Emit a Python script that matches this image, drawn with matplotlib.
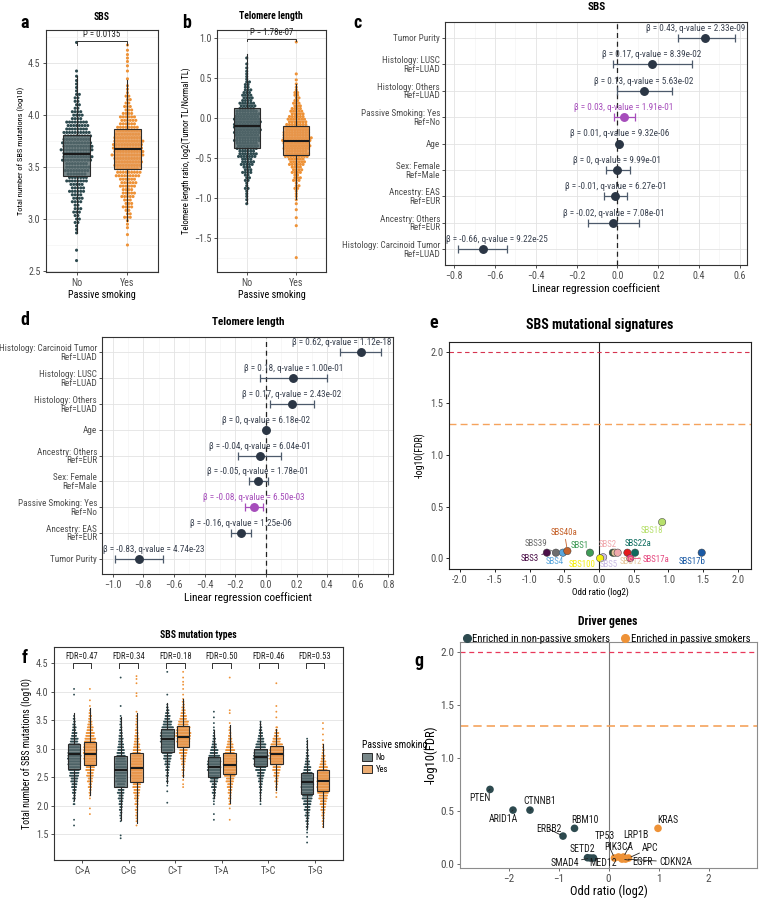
import numpy as np
import matplotlib
matplotlib.use("Agg")
import matplotlib.pyplot as plt
import matplotlib.font_manager as fm
from matplotlib.colors import to_rgba
from matplotlib.patches import Patch
from matplotlib.lines import Line2D
from matplotlib.ticker import MultipleLocator, FormatStrFormatter

W, H = 759, 899

# ---------------- data: panels a/b (counts per 0.1 bin) ----------------
groups = ["No", "Yes"]
sbs_no_start = 2.6
sbs_no_counts = [1, 1, 0, 3, 6, 8, 12, 16, 22, 26, 32, 34, 30, 24, 12, 6, 5, 3, 2, 0, 0, 1]
sbs_yes_start = 2.75
sbs_yes_counts = [1, 1, 3, 7, 10, 14, 18, 26, 30, 34, 32, 26, 18, 10, 6, 3, 1, 2, 3, 2]
sbs_box = [[2.87, 3.41, 3.63, 3.81, 4.38], [2.98, 3.48, 3.675, 3.865, 4.34]]
sbs_p = "P = 0.0135"

tl_no_start = -1.05
tl_no_counts = [2, 3, 4, 6, 10, 14, 20, 24, 28, 30, 30, 26, 18, 12, 8, 5, 3, 2, 1]
tl_yes_start = -1.75
tl_yes_counts = [1, 0, 0, 0, 1, 1, 1, 2, 3, 5, 8, 12, 18, 26, 30, 32, 28, 22, 16, 10, 6, 4, 2, 1, 0, 0, 0, 1]
tl_box = [[-1.06, -0.38, -0.10, 0.125, 0.80], [-1.02, -0.47, -0.29, -0.096, 0.42]]
tl_p = "P = 1.78e-07"

# ---------------- data: panels c/d (regression) ----------------
c_labels = ["Tumor Purity", "Histology: LUSC\nRef=LUAD", "Histology: Others\nRef=LUAD",
            "Passive Smoking: Yes\nRef=No", "Age", "Sex: Female\nRef=Male",
            "Ancestry: EAS\nRef=EUR", "Ancestry: Others\nRef=EUR",
            "Histology: Carcinoid Tumor\nRef=LUAD"]
c_beta = [0.43, 0.17, 0.13, 0.03, 0.01, 0, -0.01, -0.02, -0.66]
c_lo = [0.295, -0.02, 0.0, -0.015, 0.005, -0.055, -0.065, -0.145, -0.78]
c_hi = [0.575, 0.365, 0.265, 0.085, 0.015, 0.060, 0.045, 0.105, -0.54]
c_q = [2.33e-09, 8.39e-02, 5.63e-02, 1.91e-01, 9.32e-06, 9.99e-01, 6.27e-01, 7.08e-01, 9.22e-25]

d_labels = ["Histology: Carcinoid Tumor\nRef=LUAD", "Histology: LUSC\nRef=LUAD",
            "Histology: Others\nRef=LUAD", "Age", "Ancestry: Others\nRef=EUR",
            "Sex: Female\nRef=Male", "Passive Smoking: Yes\nRef=No",
            "Ancestry: EAS\nRef=EUR", "Tumor Purity"]
d_beta = [0.62, 0.18, 0.17, 0, -0.04, -0.05, -0.08, -0.16, -0.83]
d_lo = [0.487, -0.037, 0.024, -0.004, -0.18, -0.113, -0.135, -0.227, -0.985]
d_hi = [0.753, 0.40, 0.316, 0.004, 0.10, 0.017, -0.022, -0.096, -0.67]
d_q = [1.12e-18, 1.00e-01, 2.43e-02, 6.18e-02, 6.04e-01, 1.78e-01, 6.50e-03, 1.25e-06, 4.74e-23]

# ---------------- data: panel e (signatures) ----------------
sig_names = ["SBS3", "SBS39", "SBS4", "SBS40a", "SBS1", "SBS5", "SBS100", "", "SBS12",
             "SBS2", "", "SBS22a", "SBS17a", "SBS18", "SBS17b"]
sig_x = [-0.75, -0.62, -0.52, -0.455, -0.13, 0.06, 0.017, 0.20, 0.23, 0.27, 0.41, 0.52, 0.45, 0.91, 1.48]
sig_y = [0.054, 0.054, 0.054, 0.07, 0.054, 0.01, 0.0, 0.054, 0.054, 0.054, 0.054, 0.054, 0.0, 0.35, 0.054]
sig_colors = ["#4b0f48", "#6e6e6e", "#5aa6dc", "#c5622b", "#3f9b57", "#cbbde6", "#f5ef10",
              "#2f5a3a", "#e6c79c", "#f0a8ad", "#e41a1c", "#0d6b5e", "#e5487f", "#b7e06c", "#1a5aa5"]

# ---------------- data: panel f (mutation types) ----------------
mut_types = ["C>A", "C>G", "C>T", "T>A", "T>C", "T>G"]
mut_fdr = [0.47, 0.34, 0.18, 0.50, 0.46, 0.53]
mut_no_start = [1.65, 1.45, 2.05, 1.75, 2.05, 1.35]
mut_no_counts = [
    [1, 1, 0, 0, 3, 5, 8, 12, 16, 22, 26, 30, 32, 30, 26, 18, 12, 8, 5, 3, 0, 0, 0, 1, 1],
    [2, 0, 0, 2, 4, 6, 8, 11, 15, 19, 23, 26, 27, 25, 21, 17, 13, 10, 7, 5, 3, 2, 0, 1, 0, 0, 0, 0, 1],
    [1, 0, 1, 1, 3, 5, 8, 12, 18, 24, 30, 34, 34, 28, 20, 12, 7, 3, 0, 1, 0, 0, 0, 1],
    [1, 1, 0, 2, 4, 7, 11, 18, 26, 32, 32, 26, 18, 11, 6, 3, 2, 1, 1, 1],
    [2, 2, 4, 6, 10, 16, 24, 32, 36, 32, 24, 15, 9, 5, 2],
    [1, 1, 2, 4, 6, 9, 13, 18, 24, 28, 30, 28, 22, 16, 10, 6, 4, 2, 2],
]
mut_yes_start = [1.85, 1.65, 2.35, 1.75, 2.15, 1.65]
mut_yes_counts = [
    [1, 1, 0, 2, 4, 7, 11, 15, 20, 25, 30, 32, 30, 26, 20, 14, 9, 6, 3, 1, 1, 0, 1],
    [1, 2, 3, 5, 7, 10, 14, 18, 22, 25, 26, 25, 22, 18, 14, 10, 7, 5, 3, 2, 1, 0, 0, 2, 0, 1, 2],
    [2, 1, 3, 5, 8, 12, 18, 25, 32, 36, 32, 24, 15, 9, 5, 3, 1, 1, 2, 1, 1],
    [1, 0, 1, 3, 5, 8, 12, 18, 25, 30, 32, 28, 22, 15, 9, 5, 3, 1, 0, 2, 0, 0, 0, 0, 0, 1],
    [1, 2, 4, 7, 12, 18, 27, 34, 34, 28, 18, 10, 4, 0, 1, 1, 1, 0, 0, 0, 1],
    [2, 4, 6, 10, 14, 20, 26, 30, 30, 26, 20, 13, 8, 4, 2, 1, 1, 1, 1],
]
mut_no_box = [[2.10, 2.64, 2.90, 3.09, 3.62], [1.75, 2.33, 2.62, 2.87, 3.56],
              [2.39, 2.94, 3.17, 3.35, 3.80], [2.13, 2.51, 2.67, 2.85, 3.33],
              [2.10, 2.69, 2.86, 3.00, 3.47], [1.60, 2.20, 2.41, 2.58, 3.16]]
mut_yes_box = [[2.19, 2.71, 2.90, 3.12, 3.71], [1.69, 2.42, 2.66, 2.92, 3.62],
               [2.51, 3.03, 3.21, 3.39, 3.88], [2.04, 2.56, 2.72, 2.93, 3.42],
               [2.27, 2.73, 2.90, 3.04, 3.35], [1.63, 2.25, 2.44, 2.63, 3.08]]

# ---------------- data: panel g (driver genes) ----------------
genes = ["PTEN", "ARID1A", "CTNNB1", "ERBB2", "RBM10", "SETD2", "SMAD4", "MED12",
         "TP53", "PIK3CA", "LRP1B", "APC", "EGFR", "CDKN2A", "KRAS"]
gene_or = [-2.37, -1.91, -1.57, -0.91, -0.68, -0.42, -0.36, -0.30,
           0.12, 0.20, 0.30, 0.40, 0.27, 0.34, 0.99]
gene_fdr = [0.707, 0.512, 0.512, 0.267, 0.34, 0.063, 0.06, 0.06,
            0.06, 0.07, 0.07, 0.06, 0.05, 0.05, 0.34]

# label offsets in pixels (right, down) -- layout only
sig_offsets = {"SBS3": (-17, 6), "SBS39": (-20, -9), "SBS4": (-8, 9), "SBS40a": (-3, -19),
               "SBS1": (-10, -7), "SBS5": (6, 7), "SBS100": (-18, 6), "SBS12": (16, 9),
               "SBS2": (-10, -8), "SBS22a": (3, -9), "SBS17a": (26, 1), "SBS18": (-10, 8),
               "SBS17b": (-10, 9)}
gene_offsets = {"PTEN": (-10, 9), "ARID1A": (-10, 9), "CTNNB1": (10, -9), "ERBB2": (-14, -7),
                "RBM10": (10, -8), "SETD2": (-5, -9), "SMAD4": (-26, 5), "MED12": (10, 5),
                "TP53": (-10, -22), "PIK3CA": (0, -10), "LRP1B": (12, -22), "APC": (22, -10),
                "EGFR": (20, 3), "CDKN2A": (50, 3), "KRAS": (10, -8)}

DARK = "#2d4a4f"
ORANGE = "#ee9237"
NAVY = "#2b3645"
PURPLE = "#a64dbb"
ERRC = "#4d5a6b"


def pick_font():
    names = {f.name for f in fm.fontManager.ttflist}
    for cand in ["Roboto Condensed", "Liberation Sans Narrow", "Arial Narrow"]:
        if cand in names:
            return cand, "normal"
    for f in fm.fontManager.ttflist:
        if f.name == "DejaVu Sans" and str(f.stretch) in ("condensed", "semi-condensed"):
            return "DejaVu Sans", "condensed"
    return ("Roboto" if "Roboto" in names else "DejaVu Sans"), "normal"


FONT, STRETCH = pick_font()
plt.rcParams["font.family"] = [FONT, "DejaVu Sans"]
plt.rcParams["font.stretch"] = STRETCH
plt.rcParams["font.size"] = 7

fig = plt.figure(figsize=(W / 100, H / 100), dpi=100)


def add_ax(l, t, r, b):
    return fig.add_axes([l / W, 1 - b / H, (r - l) / W, (b - t) / H])


def ftext(x, y, s, **kw):
    fig.text(x / W, 1 - y / H, s, **kw)


def bw(ax, grid=True, tick=7.2):
    for sp in ax.spines.values():
        sp.set_color("#333333")
        sp.set_linewidth(0.8)
    ax.tick_params(which="major", length=2.5, width=0.6, color="#333333",
                   labelsize=tick, labelcolor="#4d4d4d", pad=1.5)
    ax.tick_params(which="minor", length=0)
    if grid:
        ax.grid(True, which="major", color="#e3e3e3", lw=0.6)
        ax.grid(True, which="minor", color="#f1f1f1", lw=0.4)
    ax.set_axisbelow(True)


def swarm(ax, xc, start, counts, bin_w, rows, dx, color, s):
    xs, ys = [], []
    for i, n in enumerate(counts):
        if n == 0:
            continue
        yc = start + i * bin_w
        r = min(rows, n)
        for j in range(r):
            k = len(range(j, n, r))
            yy = yc + (j - (r - 1) / 2) * bin_w / r
            off = (np.arange(k) - (k - 1) / 2) * dx
            if k > 1 and j % 2:
                off = off + dx * 0.5
            xs.extend(xc + off)
            ys.extend([yy] * k)
    ax.scatter(xs, ys, s=s, color=color, edgecolors="none", zorder=2)


def boxes(ax, stats, positions, width, faces, alpha):
    st = [dict(whislo=s[0], q1=s[1], med=s[2], q3=s[3], whishi=s[4], fliers=[]) for s in stats]
    bp = ax.bxp(st, positions=positions, widths=width, patch_artist=True, showcaps=False,
                showfliers=False, manage_ticks=False,
                boxprops=dict(edgecolor="#2a2a2a", linewidth=0.8),
                medianprops=dict(color="#1a1a1a", linewidth=1.5),
                whiskerprops=dict(color="#2a2a2a", linewidth=0.8))
    for p, fc in zip(bp["boxes"], faces):
        p.set_facecolor(to_rgba(fc, alpha))
    for key in ("boxes", "medians", "whiskers"):
        for art in bp[key]:
            art.set_zorder(3)


# ---------------- a & b ----------------
def swarm_panel(ax, no, yes, box, ylim, major, pval, yb, ylabel, ylsize):
    bw(ax)
    swarm(ax, 0, no[0], no[1], 0.1, 3, 0.055, DARK, 5)
    swarm(ax, 1, yes[0], yes[1], 0.1, 3, 0.055, ORANGE, 5)
    boxes(ax, box, [0, 1], 0.52, ["#56696c", "#e6974f"], 0.8)
    ax.set_xlim(-0.6, 1.6)
    ax.set_ylim(*ylim)
    ax.set_xticks([0, 1])
    ax.set_xticklabels(groups)
    ax.yaxis.set_major_locator(MultipleLocator(major))
    ax.yaxis.set_minor_locator(MultipleLocator(major / 2))
    ax.plot([0, 0, 1, 1], [yb - 0.03, yb, yb, yb - 0.03], color="#333333", lw=0.7, zorder=4)
    ax.text(0.5, yb + 0.02, pval, ha="center", va="bottom", fontsize=6.3, color="#222222")
    ax.set_xlabel("Passive smoking", fontsize=7.3, labelpad=1.5)
    ax.set_ylabel(ylabel, fontsize=ylsize, labelpad=2)


ax_a = add_ax(46, 30, 158, 272)
swarm_panel(ax_a, (sbs_no_start, sbs_no_counts), (sbs_yes_start, sbs_yes_counts), sbs_box,
            (2.49, 4.82), 0.5, sbs_p, 4.71, "Total number of SBS mutations (log10)", 6.0)
ax_b = add_ax(217, 30, 326, 272)
swarm_panel(ax_b, (tl_no_start, tl_no_counts), (tl_yes_start, tl_yes_counts), tl_box,
            (-1.93, 1.10), 0.5, tl_p, 0.99, "Telomere length ratio, log2(Tumor TL/Normal TL)", 6.2)

# ---------------- c & d ----------------
forest_texts = []


def forest(ax, labels, beta, lo, hi, q, xlim):
    bw(ax)
    y = np.arange(len(labels))
    ax.axvline(0, color="#222222", lw=0.9, ls=(0, (4, 3)), zorder=2)
    for i in y:
        col = PURPLE if labels[i].startswith("Passive") else NAVY
        ecol = PURPLE if labels[i].startswith("Passive") else ERRC
        ax.errorbar(beta[i], i, xerr=[[beta[i] - lo[i]], [hi[i] - beta[i]]], fmt="o",
                    color=col, ecolor=ecol, ms=5.4, capsize=2.8, elinewidth=0.9,
                    capthick=0.9, zorder=3)
        t = ax.annotate("β = %g, q-value = %.2e" % (beta[i], q[i]), (beta[i], i),
                        xytext=(0, 5), textcoords="offset pixels", ha="center", va="bottom",
                        fontsize=6.6, color=col if col == PURPLE else "#3a4250", zorder=4)
        forest_texts.append((ax, t))
    ax.set_yticks(y)
    ax.set_yticklabels(labels, fontsize=6.6, color="#4d4d4d", linespacing=0.95)
    ax.tick_params(axis="y", pad=1)
    ax.set_ylim(len(labels) - 0.4, -0.6)
    ax.set_xlim(*xlim)
    ax.xaxis.set_major_locator(MultipleLocator(0.2))
    ax.xaxis.set_minor_locator(MultipleLocator(0.1))
    ax.set_xlabel("Linear regression coefficient", fontsize=8.2, labelpad=1.5)


ax_c = add_ax(445, 22, 747, 265)
forest(ax_c, c_labels, c_beta, c_lo, c_hi, c_q, (-0.845, 0.635))
ax_d = add_ax(102, 337, 393, 574)
forest(ax_d, d_labels, d_beta, d_lo, d_hi, d_q, (-1.07, 0.83))

# ---------------- e ----------------
ax_e = add_ax(449, 342, 751, 569)
for sp in ax_e.spines.values():
    sp.set_color("#222222")
    sp.set_linewidth(0.8)
ax_e.tick_params(length=2.5, width=0.6, labelsize=7.5, labelcolor="#4d4d4d", pad=1.5)
ax_e.axvline(0, color="#222222", lw=0.8, zorder=1)
ax_e.axhline(2.0, color="#d6344f", lw=0.8, ls=(0, (4, 3)), zorder=1)
ax_e.axhline(-np.log10(0.05), color="#f5a35c", lw=1.0, ls=(0, (5, 3)), zorder=1)
ax_e.scatter(sig_x, sig_y, s=28, c=sig_colors, edgecolors="#3a3a3a", linewidths=0.35, zorder=3)
for nm, x, y, col in zip(sig_names, sig_x, sig_y, sig_colors):
    if not nm:
        continue
    dxp, dyp = sig_offsets[nm]
    arrow = dict(arrowstyle="-", color=col, lw=0.6, shrinkA=0, shrinkB=2) if abs(dxp) + abs(dyp) > 20 else None
    ax_e.annotate(nm, (x, y), xytext=(dxp, -dyp), textcoords="offset pixels", ha="center",
                  va="center", fontsize=6.4, color=col, arrowprops=arrow, zorder=4)
ax_e.set_xlim(-2.16, 2.19)
ax_e.set_ylim(-0.104, 2.094)
ax_e.xaxis.set_major_locator(MultipleLocator(0.5))
ax_e.yaxis.set_major_locator(MultipleLocator(0.5))
ax_e.xaxis.set_major_formatter(FormatStrFormatter("%.1f"))
ax_e.yaxis.set_major_formatter(FormatStrFormatter("%.1f"))
ax_e.set_xlabel("Odd ratio (log2)", fontsize=6.6, labelpad=2)
ax_e.set_ylabel("-log10(FDR)", fontsize=7, labelpad=3)

# ---------------- f ----------------
ax_f = add_ax(54, 647, 343, 860)
bw(ax_f, grid=False)
ax_f.yaxis.grid(True, color="#e3e3e3", lw=0.6)
pos = np.arange(len(mut_types))
for i in pos:
    swarm(ax_f, i - 0.17, mut_no_start[i], mut_no_counts[i], 0.1, 2, 0.0175, DARK, 1.8)
    swarm(ax_f, i + 0.17, mut_yes_start[i], mut_yes_counts[i], 0.1, 2, 0.0175, ORANGE, 1.8)
boxes(ax_f, mut_no_box, pos - 0.17, 0.27, ["#56696c"] * 6, 0.8)
boxes(ax_f, mut_yes_box, pos + 0.17, 0.27, ["#e6974f"] * 6, 0.8)
for i in pos:
    ax_f.plot([i - 0.2, i - 0.2, i + 0.2, i + 0.2], [4.41, 4.51, 4.51, 4.41], color="#333333", lw=0.7)
    ax_f.text(i, 4.54, "FDR=%.2f" % mut_fdr[i], ha="center", va="bottom", fontsize=6.2, color="#222222")
ax_f.set_xlim(-0.6, 5.6)
ax_f.set_ylim(1.043, 4.787)
ax_f.set_xticks(pos)
ax_f.set_xticklabels(mut_types)
ax_f.yaxis.set_major_locator(MultipleLocator(0.5))
ax_f.set_ylabel("Total number of SBS mutations (log10)", fontsize=7.0, labelpad=2)
fig.legend(handles=[Patch(facecolor=to_rgba("#56696c", 0.8), edgecolor="#2a2a2a", lw=0.7),
                    Patch(facecolor=to_rgba("#e6974f", 0.8), edgecolor="#2a2a2a", lw=0.7)],
           labels=groups, title="Passive smoking", loc="upper left",
           bbox_to_anchor=(354 / W, 1 - 732 / H), frameon=False, fontsize=6.3,
           title_fontsize=7, handlelength=1.1, handleheight=0.9, handletextpad=0.5,
           labelspacing=0.35, alignment="left")

# ---------------- g ----------------
ax_g = add_ax(460, 642, 757, 868)
for sp in ax_g.spines.values():
    sp.set_color("#8c8c8c")
    sp.set_linewidth(0.8)
ax_g.tick_params(length=2.5, width=0.6, color="#555555", labelsize=8, labelcolor="#4d4d4d", pad=1.5)
ax_g.axvline(0, color="#777777", lw=0.8, zorder=1)
ax_g.axhline(2.0, color="#e8385a", lw=0.9, ls=(0, (4, 3)), zorder=1)
ax_g.axhline(-np.log10(0.05), color="#f5a35c", lw=1.2, ls=(0, (5, 3)), zorder=1)
gcols = [DARK if v < 0 else ORANGE for v in gene_or]
ax_g.scatter(gene_or, gene_fdr, s=30, c=gcols, edgecolors="none", zorder=3)
for nm, x, y in zip(genes, gene_or, gene_fdr):
    dxp, dyp = gene_offsets[nm]
    arrow = dict(arrowstyle="-", color="#222222", lw=0.6, shrinkA=0, shrinkB=2) if abs(dxp) + abs(dyp) > 18 else None
    ax_g.annotate(nm, (x, y), xytext=(dxp, -dyp), textcoords="offset pixels", ha="center",
                  va="center", fontsize=7, color="#1a1a1a", arrowprops=arrow, zorder=4)
ax_g.set_xlim(-2.97, 2.97)
ax_g.set_ylim(-0.034, 2.097)
ax_g.set_xticks([-2, -1, 0, 1, 2])
ax_g.yaxis.set_major_locator(MultipleLocator(0.5))
ax_g.yaxis.set_major_formatter(FormatStrFormatter("%.1f"))
ax_g.set_xlabel("Odd ratio (log2)", fontsize=9, labelpad=1)
ax_g.set_ylabel("-log10(FDR)", fontsize=9, labelpad=2)
fig.legend(handles=[Line2D([], [], ls="", marker="o", ms=5.5, color=DARK),
                    Line2D([], [], ls="", marker="o", ms=5.5, color=ORANGE)],
           labels=["Enriched in non-passive smokers", "Enriched in passive smokers"],
           loc="lower center", bbox_to_anchor=(606 / W, 1 - 644 / H), ncol=2, frameon=False,
           fontsize=7.7, handletextpad=0.05, columnspacing=0.9, handlelength=1.0,
           borderaxespad=0, borderpad=0)

# ---------------- titles & panel letters ----------------
ftext(102, 17, "SBS", ha="center", va="center", fontsize=7, fontweight="bold")
ftext(271, 16, "Telomere length", ha="center", va="center", fontsize=7, fontweight="bold")
ftext(597, 7, "SBS", ha="center", va="center", fontsize=8, fontweight="bold")
ftext(248, 322, "Telomere length", ha="center", va="center", fontsize=8, fontweight="bold")
ftext(600, 325, "SBS mutational signatures", ha="center", va="center", fontsize=10, fontweight="bold")
ftext(198, 635, "SBS mutation types", ha="center", va="center", fontsize=7, fontweight="bold")
ftext(608, 621, "Driver genes", ha="center", va="center", fontsize=8.5, fontweight="bold")
for letter, x, y in [("a", 25, 23), ("b", 187, 23), ("c", 358, 23), ("d", 25, 320),
                     ("e", 434, 323), ("f", 25, 658), ("g", 419, 661)]:
    ftext(x, y, letter, ha="center", va="center", fontsize=13, fontweight="bold")

# keep forest-plot annotations inside their panels
fig.canvas.draw()
rend = fig.canvas.get_renderer()
for ax, t in forest_texts:
    bb = t.get_window_extent(rend)
    ab = ax.get_window_extent(rend)
    shift = 0
    if bb.x1 > ab.x1 - 2:
        shift = ab.x1 - 2 - bb.x1
    if bb.x0 < ab.x0 + 1:
        shift = ab.x0 + 1 - bb.x0
    if shift:
        t.xyann = (t.xyann[0] + shift, t.xyann[1])

fig.savefig("out.png", dpi=100)
